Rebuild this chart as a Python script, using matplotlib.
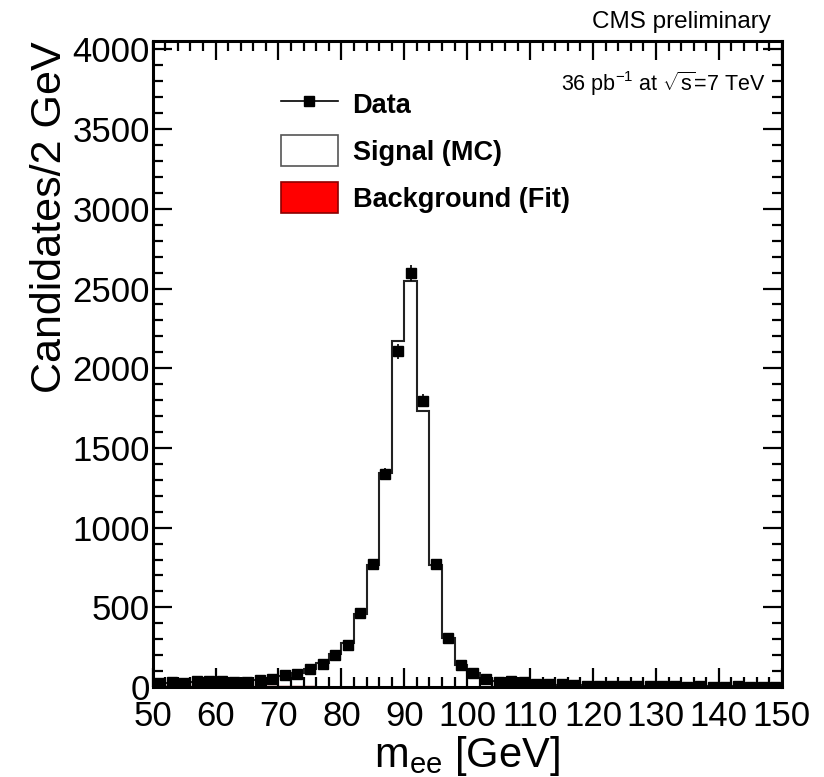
import matplotlib
matplotlib.use("Agg")
import matplotlib.pyplot as plt
import numpy as np
from matplotlib.lines import Line2D
from matplotlib.patches import Patch
from matplotlib.ticker import MultipleLocator

plt.rcParams['font.family'] = ['Liberation Sans', 'DejaVu Sans']
plt.rcParams['mathtext.fontset'] = 'custom'
plt.rcParams['mathtext.rm'] = 'Liberation Sans'
plt.rcParams['mathtext.it'] = 'Liberation Sans:italic'

# 2 GeV bins from 50 to 150 GeV
bin_edges = np.arange(50, 152, 2)

data_counts = [23, 30, 25, 40, 38, 36, 33, 33, 44, 48,
               74, 84, 113, 147, 202, 265, 462, 769, 1336, 2106,
               2596, 1797, 769, 310, 139, 90, 48, 33, 38, 30,
               21, 21, 17, 15, 8, 7, 6, 5, 6, 4,
               5, 4, 3, 4, 3, 3, 4, 2, 3, 2]

signal_mc = [18, 20, 22, 25, 28, 30, 33, 37, 42, 52,
             66, 83, 110, 148, 203, 275, 455, 762, 1338, 2170,
             2545, 1728, 765, 302, 138, 82, 50, 36, 28, 22,
             18, 15, 13, 11, 9, 8, 7, 6, 6, 5,
             5, 4, 4, 4, 3, 3, 3, 3, 2, 2]

background_fit = [4, 4, 4, 4, 4, 4, 4, 4, 4, 4,
                  4, 4, 4, 3, 3, 3, 3, 3, 3, 3,
                  3, 3, 3, 3, 3, 3, 3, 3, 3, 2,
                  2, 2, 2, 2, 2, 2, 2, 2, 2, 2,
                  2, 2, 2, 2, 2, 2, 2, 2, 2, 2]

x_ticks = list(range(50, 151, 10))
y_ticks = list(range(0, 4001, 500))

data_counts = np.array(data_counts, dtype=float)
signal_mc = np.array(signal_mc, dtype=float)
background_fit = np.array(background_fit, dtype=float)
centers = 0.5 * (bin_edges[:-1] + bin_edges[1:])

fig = plt.figure(figsize=(8.24, 7.77), dpi=100)
ax = fig.add_axes([0.1853, 0.1158, 0.7634, 0.8308])

# background fit (red) and signal MC stacked on top of it
ax.stairs(background_fit, bin_edges, fill=True, facecolor='red',
          edgecolor='#8b0000', linewidth=1.0)
ax.stairs(signal_mc + background_fit, bin_edges, color='#222222', linewidth=1.5)

ax.errorbar(centers, data_counts, yerr=np.sqrt(data_counts), fmt='s',
            color='black', ms=7, elinewidth=1.2, capsize=0, zorder=5)

ax.set_xlim(50, 150)
ax.set_ylim(0, 4050)
ax.set_xticks(x_ticks)
ax.set_yticks(y_ticks)
ax.xaxis.set_minor_locator(MultipleLocator(2))
ax.yaxis.set_minor_locator(MultipleLocator(100))
ax.tick_params(which='both', direction='in', top=True, right=True, width=1.6)
ax.tick_params(which='major', length=14, labelsize=25)
ax.tick_params(axis='y', which='major', pad=2)
ax.tick_params(axis='x', which='major', pad=9)
ax.tick_params(which='minor', length=7)
for s in ax.spines.values():
    s.set_linewidth(2.2)

ax.set_ylabel('Candidates/2 GeV', fontsize=31, loc='top', labelpad=2)
ax.set_xlabel(r'm$_{\rm ee}$ [GeV]', fontsize=30, labelpad=1)

fig.text(0.936, 0.972, 'CMS preliminary', ha='right', va='center', fontsize=17.5)
ax.text(0.975, 0.935, r'36 pb$^{-1}$ at $\sqrt{\mathrm{s}}$=7 TeV', transform=ax.transAxes,
        ha='right', va='center', fontsize=15.5)

handles = [Line2D([], [], color='black', marker='s', ms=7, lw=1.2),
           Patch(facecolor='white', edgecolor='#555555', linewidth=1.2),
           Patch(facecolor='red', edgecolor='#8b0000', linewidth=1.2)]
labels = ['Data', 'Signal (MC)', 'Background (Fit)']
ax.legend(handles, labels, loc='upper left', bbox_to_anchor=(0.165, 0.965),
          frameon=False, prop={'weight': 'bold', 'size': 19.5},
          handlelength=2.1, handleheight=1.4, labelspacing=0.57, handletextpad=0.55)

plt.savefig('out.png', dpi=100)
plt.close()
